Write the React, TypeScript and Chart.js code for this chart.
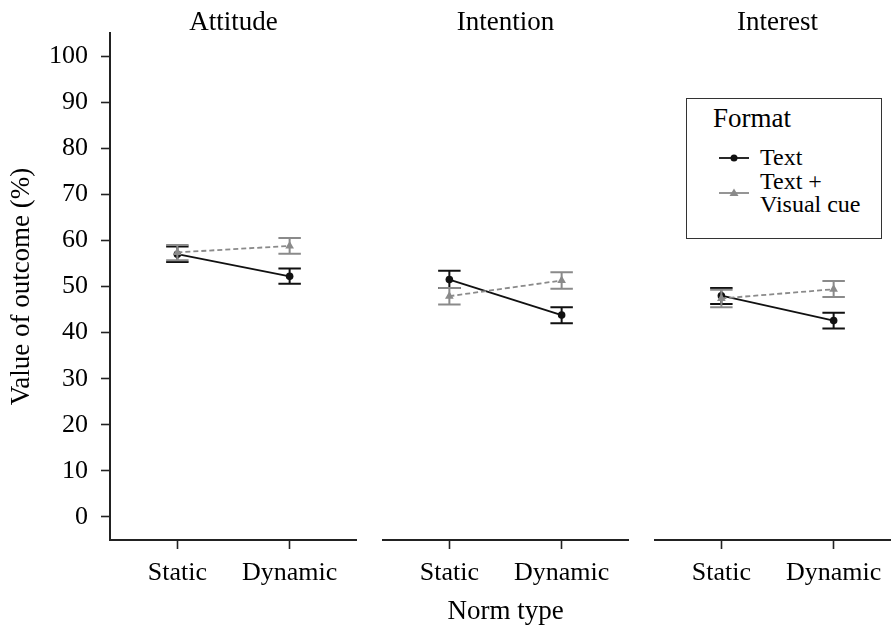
import React, { useEffect, useRef } from 'react';
import { Chart, registerables } from 'chart.js';

Chart.register(...registerables);

// ---------------- data ----------------
const panelTitles = ['Attitude', 'Intention', 'Interest'];
const normTypes = ['Static', 'Dynamic'];
const yTickValues = [0, 10, 20, 30, 40, 50, 60, 70, 80, 90, 100];
const seriesNames = ['Text', 'Text +\nVisual cue'];

// per panel: [Static, Dynamic]
const textMean = [[57.0, 52.2], [51.5, 43.8], [48.0, 42.6]];
const textLow = [[55.3, 50.6], [49.7, 42.0], [46.2, 40.9]];
const textHigh = [[58.7, 53.9], [53.4, 45.5], [49.7, 44.3]];

const cueMean = [[57.4, 58.8], [47.9, 51.3], [47.4, 49.4]];
const cueLow = [[55.7, 57.1], [46.1, 49.5], [45.5, 47.7]];
const cueHigh = [[59.0, 60.5], [49.7, 53.1], [49.3, 51.2]];

// ---------------- styling ----------------
const FONT = "'Liberation Serif', 'Times New Roman', Times, serif";
const BLACK = '#111111';
const GREY = '#8a8a8a';
const AXIS = '#222222';
const ERR_HALF = 0.1; // half width of error bar caps in x units

const errorBarPlugin = {
  id: 'errorBars',
  beforeDatasetDraw(chart: any, args: any) {
    const ds: any = chart.data.datasets[args.index];
    if (!ds.errLow) return;
    const xs = chart.scales.x;
    const ys = chart.scales.y;
    const ctx = chart.ctx;
    ctx.save();
    ctx.strokeStyle = ds.borderColor;
    ctx.lineWidth = 2;
    ctx.setLineDash([]);
    ds.data.forEach((p: any, i: number) => {
      const x = xs.getPixelForValue(p.x);
      const xl = xs.getPixelForValue(p.x - ERR_HALF);
      const xr = xs.getPixelForValue(p.x + ERR_HALF);
      const yl = ys.getPixelForValue(ds.errLow[i]);
      const yh = ys.getPixelForValue(ds.errHigh[i]);
      ctx.beginPath();
      ctx.moveTo(x, yl);
      ctx.lineTo(x, yh);
      ctx.moveTo(xl, yl);
      ctx.lineTo(xr, yl);
      ctx.moveTo(xl, yh);
      ctx.lineTo(xr, yh);
      ctx.stroke();
    });
    ctx.restore();
  },
};

type PanelProps = {
  idx: number;
  left: number;
  width: number;
  showY: boolean;
  showXTitle: boolean;
};

function Panel({ idx, left, width, showY, showXTitle }: PanelProps) {
  const ref = useRef<HTMLCanvasElement>(null);

  useEffect(() => {
    if (!ref.current) return;
    const toPts = (arr: number[]) => arr.map((v, i) => ({ x: i + 1, y: v }));
    const chart = new Chart(ref.current, {
      type: 'line',
      data: {
        datasets: [
          {
            label: seriesNames[0],
            data: toPts(textMean[idx]),
            errLow: textLow[idx],
            errHigh: textHigh[idx],
            borderColor: BLACK,
            backgroundColor: BLACK,
            borderWidth: 1.8,
            pointStyle: 'circle',
            pointRadius: 3.8,
            pointBorderWidth: 0,
            pointBackgroundColor: BLACK,
            order: 1,
          } as any,
          {
            label: seriesNames[1],
            data: toPts(cueMean[idx]),
            errLow: cueLow[idx],
            errHigh: cueHigh[idx],
            borderColor: GREY,
            backgroundColor: GREY,
            borderWidth: 1.8,
            borderDash: [5, 3],
            pointStyle: 'triangle',
            pointRadius: 5,
            pointBorderWidth: 0,
            pointBackgroundColor: GREY,
            order: 0,
          } as any,
        ],
      },
      options: {
        animation: false,
        responsive: false,
        maintainAspectRatio: false,
        layout: { padding: 0, autoPadding: false },
        plugins: {
          legend: { display: false },
          tooltip: { enabled: false },
          title: {
            display: true,
            text: panelTitles[idx],
            fullSize: false,
            color: '#000',
            font: { family: FONT, size: 27, weight: 'normal', lineHeight: 0.7 },
            padding: { top: 13.5, bottom: 0.6 },
          },
        },
        scales: {
          x: {
            type: 'linear',
            min: 0.4,
            max: 2.6,
            afterBuildTicks: (s: any) => {
              s.ticks = normTypes.map((_, i) => ({ value: i + 1 }));
            },
            afterFit: (s: any) => {
              s.height = 91;
            },
            ticks: {
              callback: (v: any) => normTypes[Number(v) - 1],
              color: '#000',
              font: { family: FONT, size: 26 },
              padding: 9,
              autoSkip: false,
              maxRotation: 0,
            },
            grid: {
              drawOnChartArea: false,
              drawTicks: true,
              tickLength: 9,
              tickColor: AXIS,
              tickWidth: 1.6,
            },
            border: { display: true, color: AXIS, width: 2 },
            title: {
              display: showXTitle,
              text: 'Norm type',
              color: '#000',
              font: { family: FONT, size: 27 },
              padding: { top: 0, bottom: 3 },
            },
          },
          y: {
            display: showY,
            min: -5,
            max: 105,
            afterBuildTicks: (s: any) => {
              s.ticks = yTickValues.map((v) => ({ value: v }));
            },
            afterFit: (s: any) => {
              s.width = showY ? 110 : 0;
            },
            ticks: {
              color: '#000',
              font: { family: FONT, size: 26 },
              padding: 13,
            },
            grid: {
              drawOnChartArea: false,
              drawTicks: true,
              tickLength: 9,
              tickColor: AXIS,
              tickWidth: 1.6,
            },
            border: { display: true, color: AXIS, width: 2 },
            title: {
              display: true,
              text: 'Value of outcome (%)',
              color: '#000',
              font: { family: FONT, size: 27 },
              padding: { top: 6, bottom: 0 },
            },
          },
        },
      } as any,
      plugins: [errorBarPlugin],
    });
    return () => chart.destroy();
  }, [idx, showY, showXTitle]);

  return (
    <div style={{ position: 'absolute', left, top: 0, width, height: 631 }}>
      <canvas ref={ref} width={width} height={631} style={{ width, height: 631, display: 'block' }} />
    </div>
  );
}

function LegendText({ text, left, center, size }: { text: string; left: number; center: number; size: number }) {
  return (
    <div
      style={{
        position: 'absolute',
        left,
        top: center - 0.5075 * size,
        fontFamily: FONT,
        fontSize: size,
        lineHeight: 1,
        whiteSpace: 'nowrap',
        color: '#000',
      }}
    >
      {text}
    </div>
  );
}

export default function App() {
  const cueLines = seriesNames[1].split('\n');
  return (
    <div
      style={{
        position: 'absolute',
        left: 0,
        top: 0,
        width: 891,
        height: 631,
        overflow: 'hidden',
        background: '#ffffff',
      }}
    >
      <Panel idx={0} left={0} width={357} showY={true} showXTitle={false} />
      <Panel idx={1} left={382} width={247} showY={false} showXTitle={true} />
      <Panel idx={2} left={654} width={247} showY={false} showXTitle={false} />

      {/* legend */}
      <div
        style={{
          position: 'absolute',
          left: 686,
          top: 98,
          width: 196,
          height: 141,
          border: '1px solid #333',
          boxSizing: 'border-box',
          background: '#fff',
        }}
      />
      <LegendText text="Format" left={713} center={119.2} size={27} />
      <svg style={{ position: 'absolute', left: 719, top: 150 }} width={30} height={16}>
        <line x1={0} y1={8} x2={30} y2={8} stroke={BLACK} strokeWidth={1.8} />
        <circle cx={15} cy={8} r={3.5} fill={BLACK} />
      </svg>
      <LegendText text={seriesNames[0]} left={760} center={157.5} size={24} />
      <svg style={{ position: 'absolute', left: 719, top: 185 }} width={30} height={16}>
        <line x1={0} y1={8} x2={30} y2={8} stroke={GREY} strokeWidth={1.8} />
        <polygon points="15,3.5 19.5,11 10.5,11" fill={GREY} />
      </svg>
      <LegendText text={cueLines[0]} left={760} center={181} size={24} />
      <LegendText text={cueLines[1]} left={760} center={204} size={24} />
    </div>
  );
}
